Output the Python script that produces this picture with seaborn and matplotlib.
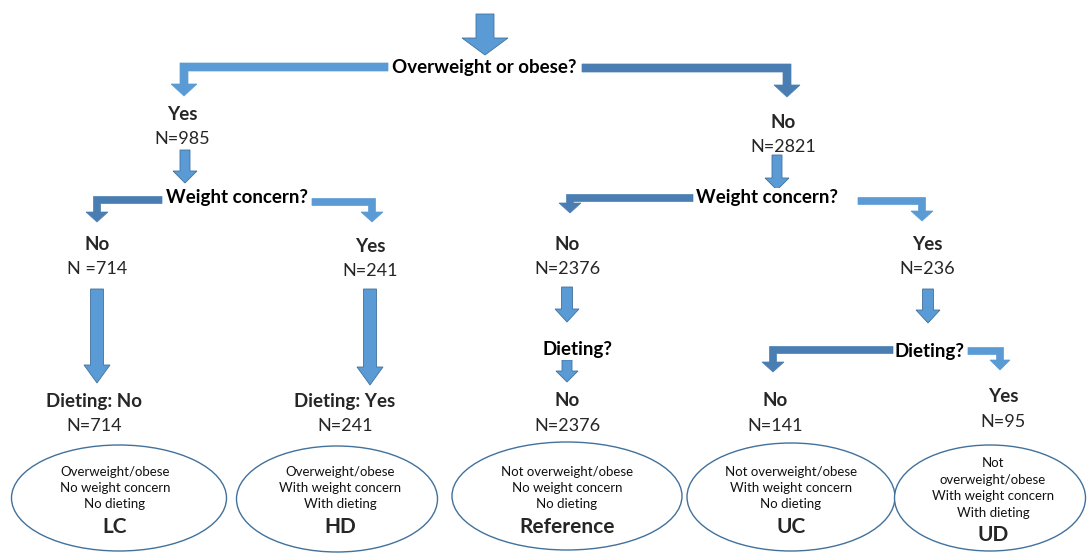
import matplotlib.pyplot as plt
import seaborn as sns
from matplotlib.patches import Ellipse, Polygon

sns.set_theme(style="white")
plt.rcParams["font.family"] = ["Lato", "DejaVu Sans"]

# data
questions = ["Overweight or obese?", "Weight concern?", "Weight concern?", "Dieting?", "Dieting?"]
answers = ["Yes", "No", "No", "Yes", "No", "Yes", "Dieting: No", "Dieting: Yes", "No", "No", "Yes"]
counts = [985, 2821, 714, 241, 2376, 236, 714, 241, 2376, 141, 95]
count_fmt = ["N={}", "N={}", "N ={}", "N={}", "N={}", "N={}", "N={}", "N={}", "N={}", "N={}", "N={}"]
groups = ["LC", "HD", "Reference", "UC", "UD"]
group_desc = [
    "Overweight/obese\nNo weight concern\nNo dieting",
    "Overweight/obese\nWith weight concern\nWith dieting",
    "Not overweight/obese\nNo weight concern\nNo dieting",
    "Not overweight/obese\nWith weight concern\nNo dieting",
    "Not\noverweight/obese\nWith weight concern\nWith dieting",
]

# layout (pixels)
q_pos = [(484, 68), (237, 198), (767, 198), (577, 350), (930, 352)]
a_pos = [(182, 114), (783, 122), (97, 244), (370, 246), (567, 244), (927, 244),
         (94, 401), (345, 401), (567, 401), (775, 401), (1003, 397)]
n_dy = 25
ell = [(119, 498, 215, 106), (337, 499, 201, 106), (567, 496, 230, 108),
       (791, 497, 208, 108), (990, 498, 191, 106)]
text_cx = [115, 340, 567, 791, 993]
line_h = 16.5

LIGHT = "#5b9bd5"
DARK = "#4a7eb2"
EDGE = "#41719c"

fig = plt.figure(figsize=(10.88, 5.53), dpi=100)
ax = fig.add_axes([0, 0, 1, 1])
ax.set_xlim(0, 1088)
ax.set_ylim(553, 0)
ax.axis("off")


def down_arrow(x, y0, tip, w, h, L, color=LIGHT):
    pts = [(x - w, y0), (x + w, y0), (x + w, tip - L), (x + h, tip - L), (x, tip),
           (x - h, tip - L), (x - w, tip - L)]
    ax.add_patch(Polygon(pts, closed=True, fc=color, ec=EDGE, lw=0.6))


def elbow(x0, y, x1, tip, t=4, h=12, L=11, color=LIGHT):
    s = 1 if x1 > x0 else -1
    outer, inner = x1 + s * t, x1 - s * t
    pts = [(x0, y - t), (outer, y - t), (outer, tip - L), (x1 + s * h, tip - L), (x1, tip),
           (x1 - s * h, tip - L), (inner, tip - L), (inner, y + t), (x0, y + t)]
    ax.add_patch(Polygon(pts, closed=True, fc=color, ec=color, lw=0.5))


# arrows
down_arrow(485, 14, 55, 9, 23, 17)
elbow(388, 67, 184, 96, t=4, h=13, L=12, color=LIGHT)
elbow(582, 68, 787, 97, t=4, h=13, L=12, color=DARK)
down_arrow(185, 150, 183, 5, 12, 12)
down_arrow(777, 155, 190, 5, 12, 12)
elbow(162, 200, 97, 222, t=3.5, h=11, L=10, color=DARK)
elbow(312, 202, 372, 222, t=3.5, h=11, L=10, color=LIGHT)
elbow(693, 198, 570, 213, t=3.5, h=11, L=10, color=DARK)
elbow(858, 201, 922, 221, t=3.5, h=11, L=10, color=LIGHT)
down_arrow(97, 289, 383, 6.5, 13, 18)
down_arrow(370, 289, 385, 6.5, 13, 18)
down_arrow(567, 287, 322, 5.5, 12, 13)
down_arrow(928, 289, 323, 5.5, 12, 13)
down_arrow(567, 360, 382, 5, 11, 11)
elbow(893, 350, 773, 372, t=3.5, h=11, L=10, color=DARK)
elbow(968, 351, 1000, 370, t=3.5, h=10, L=10, color=LIGHT)

# text
for q, (x, y) in zip(questions, q_pos):
    ax.text(x, y, q, ha="center", va="center", fontsize=13.5, fontweight="bold",
            color="black", bbox=dict(fc="white", ec="none", pad=1.0))
for a, n, f, (x, y) in zip(answers, counts, count_fmt, a_pos):
    ax.text(x, y, a, ha="center", va="center", fontsize=13.5, fontweight="bold")
    ax.text(x, y + n_dy, f.format(n), ha="center", va="center", fontsize=13)

for g, d, tx, (cx, cy, w, h) in zip(groups, group_desc, text_cx, ell):
    ax.add_patch(Ellipse((cx, cy), w, h, fc="white", ec=EDGE, lw=1.0))
    lines = d.split("\n")
    y0 = 488 - (len(lines) - 1) * line_h / 2
    for i, ln in enumerate(lines):
        ax.text(tx, y0 + i * line_h, ln, ha="center", va="center", fontsize=9.5,
                color="#111111")
    ax.text(tx, 488 + len(lines) * line_h / 2 + 14, g, ha="center", va="center",
            fontsize=15, fontweight="bold")

fig.savefig("out.png", dpi=100)
